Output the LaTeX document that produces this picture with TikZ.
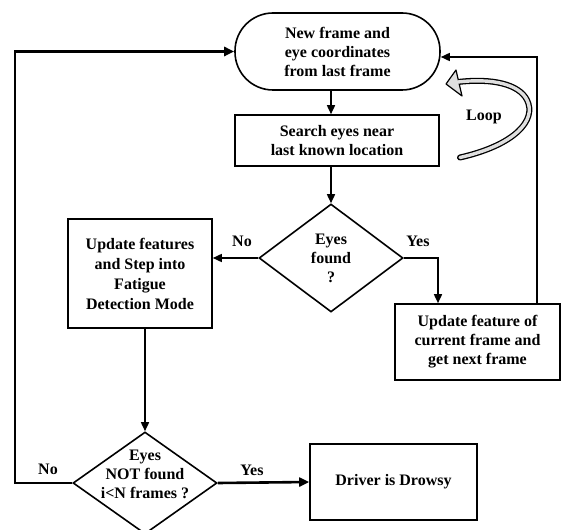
\documentclass[tikz,border=0pt]{standalone}
\usepackage{fontspec}
\setmainfont{Liberation Serif}
\usetikzlibrary{shapes.geometric,arrows.meta}
\begin{document}
\begin{tikzpicture}[x=1pt,y=-1pt,
  every node/.style={font=\fontsize{16}{19}\selectfont\bfseries, align=center, inner sep=0pt},
  box/.style={draw, line width=1.6pt},
  dec/.style={draw, diamond, line width=1.6pt},
  arr/.style={line width=1.6pt, -{Triangle[length=9pt,width=8pt]}},
  thick arr/.style={line width=2.6pt, -{Triangle[length=10pt,width=9pt]}},
  loopfill/.style={fill=gray!25}]
\useasboundingbox (0,0) rectangle (561,529);
% nodes
\node[box, rounded corners=38pt, minimum width=205pt, minimum height=77pt] (term) at (337.5,51.5) {New frame and\\eye coordinates\\from last frame};
\node[box, minimum width=204pt, minimum height=51pt] (search) at (337,140.5) {Search eyes near\\last known location};
\node[dec, minimum width=144pt, minimum height=108pt] (d1) at (331,258) {Eyes\\found\\?};
\node[box, minimum width=144pt, minimum height=109pt, font=\fontsize{16}{20}\selectfont\bfseries] (upd) at (140,273.5) {Update features\\and Step into\\Fatigue\\Detection Mode};
\node[box, minimum width=165pt, minimum height=76pt] (next) at (477.5,342) {Update feature of\\current frame and\\get next frame};
\node[dec, minimum width=144pt, minimum height=102pt] (d2) at (145,483) {};
\node (d2t) at (145,474) {Eyes\\NOT found\\i<N frames ?};
\node[box, minimum width=167pt, minimum height=76pt] (drw) at (393.5,482) {Driver is Drowsy};
% helper coordinates
\coordinate (nextin) at ([xshift=-39.5pt]next.north);
\coordinate (ret) at ([xshift=59.5pt]next.north);
\coordinate (lcorner) at (15,483);
% connectors
\draw[arr] (d1.north |- term.south) -- (d1.north |- search.north);
\draw[arr] (d1.north |- search.south) -- (d1.north);
\draw[arr] (d1.west) -- (upd.east |- d1.west);
\draw[arr] (d1.east) -| (nextin);
\draw[arr] (ret) |- ([yshift=-5.5pt]term.east);
\draw[arr] (d2.north |- upd.south) -- (d2.north);
\draw[thick arr] (d2.west) -- (lcorner) |- (term.west);
\draw[thick arr] (d2.east) -- (drw.west);
% labels
\node (l1) at (242,241) {No};
\node (l2) at (418,241) {Yes};
\node (l3) at (48,469) {No};
\node (l4) at (252,470) {Yes};
\node (l5) at (484,117) {Loop};
% loop arrow
\draw[line width=6pt, line cap=round] (460,157.5) .. controls (515,145) and (537,120) .. (527,100) .. controls (519,84) and (492,78) .. (458,82);
\filldraw[loopfill, draw=black, line width=1.2pt, line join=round] (446,84) -- (456,70) -- (462,96) -- cycle;
\draw[line width=3.4pt, gray!25, line cap=round] (460,157.5) .. controls (515,145) and (537,120) .. (527,100) .. controls (519,84) and (492,78) .. (458,82);
\end{tikzpicture}
\end{document}
